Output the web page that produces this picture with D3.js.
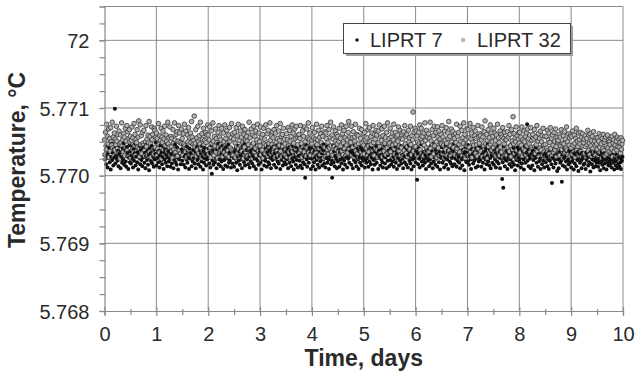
<!DOCTYPE html>
<html><head><meta charset="utf-8">
<script src="https://cdn.jsdelivr.net/npm/d3@7"></script>
<style>body{margin:0;background:#fff}svg{display:block;font-family:"Liberation Sans",Arial,sans-serif}</style>
</head><body><svg width="637" height="375"></svg>
<script>
// ---- data ----
const dayTicks = [0,1,2,3,4,5,6,7,8,9,10];
const yTicks = [5.768,5.769,5.770,5.771,5.772];
const yTickLabels = ["5.768","5.769","5.770","5.771","72"];
const seriesNames = ["LIPRT 7","LIPRT 32"];
const xTitle = "Time, days";
const yTitle = "Temperature, °C";
const tempBase = 5.770;        // °C
const sampleStepDays = 0.01;   // time between readings
// readings, in units of 0.00001 °C above tempBase (one row = 0.25 day)
const liprt7 = [
31,24,38,17,29,45,12,33,26,41,20,36,9,28,47,23,34,15,39,27,99,18,43,30,25,
22,37,14,32,44,26,11,35,28,19,40,24,48,16,31,38,21,13,42,29,34,10,27,45,20,
36,18,30,43,25,12,39,22,33,47,15,28,41,20,35,9,31,26,44,17,38,23,30,14,40,
27,42,19,34,11,29,46,23,37,16,31,8,40,25,33,21,44,18,36,28,13,39,24,32,49,
15,33,26,41,20,37,12,30,45,22,35,17,28,43,10,34,24,39,19,31,47,14,27,36,21,
40,25,13,32,44,18,29,38,11,35,23,46,20,30,16,42,27,9,37,24,33,48,17,29,39,
22,34,45,16,28,37,12,31,24,43,19,36,27,10,40,25,33,47,14,30,21,38,26,44,18,
35,11,29,42,23,31,17,46,26,38,13,33,21,44,28,9,36,19,41,25,32,15,39,24,30,
27,40,18,34,12,29,45,3,22,37,16,31,43,20,35,25,11,39,28,47,17,33,24,41,14,
32,21,44,26,10,38,23,30,15,42,28,36,13,25,46,19,34,22,40,12,29,37,18,31,26,
13,36,25,41,19,33,8,28,44,22,35,16,30,39,24,11,43,27,34,20,47,15,32,26,38,
24,31,17,43,28,12,37,21,34,46,18,29,40,14,33,25,38,10,27,45,22,35,16,30,41,
36,19,28,9,39,24,32,47,15,30,22,41,27,13,35,44,20,31,17,38,26,11,34,42,23,
29,43,16,33,25,38,12,27,45,21,34,18,40,29,10,36,23,31,46,15,28,39,20,33,26,
17,35,24,40,11,30,42,19,28,36,14,33,25,44,21,9,38,27,31,16,42,23,35,12,29,
38,22,30,15,43,26,11,34,20,39,28,17,-3,31,45,24,13,36,29,19,41,26,33,10,37,
25,41,14,32,20,36,27,9,44,23,30,16,39,28,12,35,21,42,26,33,15,38,24,46,18,
30,12,37,26,43,19,33,24,10,40,28,35,17,22,-3,31,45,20,36,14,29,41,25,11,34,
21,38,27,13,35,24,42,18,31,26,9,39,22,44,16,30,27,37,12,33,25,41,19,28,36,
43,16,29,34,11,37,23,30,45,20,33,14,28,40,24,10,36,27,19,42,31,15,38,25,22,
28,35,12,41,24,19,32,46,26,13,38,21,30,43,17,27,34,9,40,23,31,16,36,25,44,
19,33,26,10,37,28,42,15,31,24,39,20,12,35,29,45,18,27,33,11,40,22,30,37,14,
34,23,40,17,30,46,21,28,13,36,25,43,19,32,10,38,26,35,15,41,22,29,44,18,31,
25,11,37,29,20,42,33,16,27,39,12,31,45,22,34,18,28,9,36,24,40,14,30,26,43,
20,36,29,-6,33,17,41,25,12,38,28,46,21,31,15,35,24,43,19,30,10,37,26,33,22,
39,14,31,24,44,18,28,36,11,33,21,47,27,16,38,25,32,13,42,29,20,35,9,31,26,
30,42,19,35,23,12,39,27,45,16,32,24,37,10,29,43,21,34,18,40,26,14,36,28,47,
17,33,25,40,13,31,22,44,28,19,36,11,30,41,24,15,38,27,33,8,35,23,42,20,29,
34,21,45,16,29,37,24,10,39,26,32,18,43,22,35,28,12,40,25,30,14,37,21,44,27,
23,38,13,31,42,19,34,27,9,36,24,40,17,29,46,21,33,15,38,26,11,35,30,19,42,
29,16,37,24,33,12,40,21,30,44,18,27,35,11,38,25,31,-5,20,-18,43,26,14,34,23,
36,22,10,39,27,32,17,45,24,29,13,37,20,33,41,16,28,8,35,23,30,42,15,26,38,
21,33,26,12,40,18,29,36,24,9,31,43,19,27,34,76,22,38,14,30,25,41,11,32,28,
15,37,23,30,8,34,26,42,19,28,36,13,32,21,39,25,10,35,29,17,44,22,31,12,27,
33,20,28,39,14,31,24,10,36,22,29,41,17,-11,26,34,12,38,23,30,18,42,25,7,32,
24,11,35,27,19,38,22,-9,30,15,33,26,40,13,29,21,36,9,31,24,17,37,20,28,34,
12,29,21,36,25,9,33,18,27,39,14,30,23,35,7,26,32,19,38,22,11,34,25,29,16,
31,18,26,10,34,23,29,37,15,28,20,33,6,27,36,17,24,31,12,30,22,35,14,26,19,
22,28,13,32,19,25,8,30,21,35,16,27,23,11,33,18,29,24,9,31,20,26,15,34,21,
17,25,30,12,23,28,19,33,9,26,21,15,31,24,11,29,18,27,14,32,20,10,25,22,28
];
const liprt32 = [
53,31,64,44,76,39,58,47,69,27,55,36,71,50,45,79,41,57,29,63,38,54,46,73,51,
40,61,33,66,47,25,60,49,78,44,53,35,62,57,30,70,42,51,74,37,65,28,55,68,50,
58,26,52,72,39,56,34,77,45,61,30,54,49,68,42,57,81,40,28,75,46,59,33,64,48,
45,67,37,29,50,74,43,54,31,60,49,80,35,58,47,27,72,53,61,39,32,70,67,42,57,
63,29,55,40,77,46,34,59,52,70,25,57,49,66,38,54,73,45,30,60,51,36,79,47,56,
42,72,31,58,43,55,26,68,48,39,78,53,34,61,40,65,29,51,74,37,63,49,33,69,47,
55,30,62,47,76,44,35,66,41,27,60,50,71,38,56,32,63,49,80,57,28,46,52,88,43,
48,68,29,56,38,73,50,33,59,47,79,41,26,62,54,36,70,46,52,31,64,49,60,37,75,
60,32,53,72,41,27,66,48,37,78,51,30,58,44,69,35,55,49,26,64,42,74,57,33,53,
46,70,39,28,63,50,34,75,44,55,31,67,48,37,60,28,71,51,41,56,77,38,62,30,54,
37,64,48,27,71,43,59,33,76,40,52,30,66,44,57,36,73,49,25,61,42,68,53,34,58,
51,29,64,46,79,39,56,32,69,43,26,60,48,73,35,58,41,66,30,53,76,44,37,63,50,
44,72,31,57,38,61,26,70,47,54,33,75,45,36,62,29,67,48,40,78,52,32,59,46,65,
56,34,68,41,27,63,49,74,37,55,30,66,45,52,77,36,58,28,61,43,70,33,54,47,31,
39,62,28,53,71,44,35,67,51,26,58,42,75,36,63,48,30,69,55,40,73,32,57,46,60,
61,33,55,74,38,48,27,66,42,58,35,72,50,44,29,69,41,56,78,34,54,63,30,47,51,
47,71,36,56,29,64,43,54,33,76,46,53,27,67,40,57,31,62,49,73,37,58,45,26,65,
42,28,63,55,74,38,49,32,68,41,57,79,44,35,60,30,54,72,43,26,66,51,39,61,47,
58,35,51,70,27,55,44,75,36,62,31,48,67,40,56,29,73,45,53,34,64,80,39,57,46,
49,73,30,56,42,65,28,57,51,76,37,45,61,33,59,47,27,70,42,55,35,68,48,31,62,
45,32,64,53,77,41,56,29,68,44,35,71,50,26,58,46,63,38,74,49,30,61,54,40,67,
60,38,27,66,49,75,43,33,57,52,69,28,59,45,36,73,48,56,31,64,41,78,34,47,55,
48,70,35,57,29,63,45,53,76,40,32,64,47,58,26,60,51,72,37,44,67,30,55,41,63,
54,29,65,37,74,47,58,33,61,43,28,67,50,56,39,73,46,31,59,53,94,36,64,42,70,
43,66,31,59,50,27,64,47,75,38,55,70,33,58,49,29,63,45,78,52,36,67,41,57,34,
62,35,55,79,40,51,28,68,46,59,32,73,44,38,64,50,27,72,57,41,66,30,54,48,61,
47,74,33,57,45,26,66,52,39,71,48,30,63,55,80,37,58,44,29,69,50,35,65,42,60,
55,31,62,49,76,40,58,28,64,46,35,73,51,42,67,30,56,48,78,37,61,26,53,45,70,
44,68,30,56,42,77,35,54,63,27,49,71,45,38,59,66,33,55,46,29,74,40,57,48,62,
59,36,53,72,28,57,44,65,39,81,47,31,61,52,25,68,43,56,34,75,46,63,38,50,58,
41,70,33,63,52,29,60,45,76,38,56,49,30,66,42,61,35,57,71,27,55,47,64,36,53,
53,30,65,42,57,74,36,61,44,28,68,51,39,87,47,62,33,56,50,72,38,59,26,54,64,
48,64,34,57,45,72,29,53,40,66,50,37,58,31,63,44,69,27,55,47,60,35,71,42,52,
39,61,29,54,68,43,33,57,46,74,36,51,62,28,55,41,66,38,50,59,30,70,45,35,58,
46,27,58,41,67,37,53,63,32,49,71,40,55,29,60,45,34,64,51,38,69,43,28,57,50,
52,36,61,30,57,44,68,39,48,26,59,47,65,33,54,41,72,38,50,31,62,45,56,29,60,
41,58,32,66,45,35,60,48,27,55,70,38,51,43,63,30,53,47,64,36,57,28,62,44,49,
54,33,59,43,27,55,46,67,37,60,48,31,62,44,52,28,58,40,65,35,51,45,30,56,47,
39,56,30,51,62,42,34,58,47,26,55,40,61,37,49,53,29,57,44,32,60,41,52,35,50,
46,32,55,40,58,28,48,53,36,61,45,30,51,38,57,43,27,54,42,49,33,56,39,47,52
];

// ---- chart ----
const svg = d3.select("svg");
const x = d3.scaleLinear().domain([0,10]).range([104.5,623]);
const y = d3.scaleLinear().domain([5.768,5.7725]).range([311,6.5]);
const toPts = (arr,s) => arr.map((o,i)=>({s, t:i*sampleStepDays, v:tempBase + o*1e-5}));
const s7 = toPts(liprt7,0), s32 = toPts(liprt32,1);
// draw readings in time order, alternating series (as recorded)
const allPts = d3.merge(s7.map((p,i)=>[p, s32[i]]));
const gridCol = "#8a8a8a", txtCol = "#2a2a2a";

// grid
const g = svg.append("g");
g.selectAll(".vg").data(dayTicks.slice(1)).join("line")
  .attr("x1",d=>x(d)).attr("x2",d=>x(d)).attr("y1",y(5.7725)).attr("y2",y(5.768))
  .attr("stroke",gridCol).attr("stroke-width",1);
g.selectAll(".hg").data(yTicks.slice(1).concat([5.7725])).join("line")
  .attr("x1",x(0)).attr("x2",x(10)).attr("y1",d=>y(d)).attr("y2",d=>y(d))
  .attr("stroke",gridCol).attr("stroke-width",1);

// points
svg.append("g").selectAll("circle").data(allPts).join("circle")
  .attr("cx",d=>x(d.t)).attr("cy",d=>y(d.v))
  .attr("r",d=>d.s===0?2.0:2.3)
  .attr("fill",d=>d.s===0?"#111":"#b0b0b0")
  .attr("stroke",d=>d.s===0?"none":"#3a3a3a")
  .attr("stroke-width",0.85);

// axes
const yAxis = d3.axisLeft(y).tickValues(yTicks).tickFormat((d,i)=>yTickLabels[i]).tickSize(5).tickPadding(10);
const yMinor = d3.axisLeft(y).tickValues(d3.range(0,19).map(i=>5.768+i*0.00025)).tickFormat("").tickSize(5);
const xAxis = d3.axisBottom(x).tickValues(dayTicks).tickFormat(d3.format("d")).tickSize(5).tickPadding(11);
const xMinor = d3.axisBottom(x).tickValues(d3.range(0,20).map(i=>i+0.5).filter(d=>d<10)).tickFormat("").tickSize(4);

function styleAxis(sel){
  sel.select(".domain").attr("stroke",gridCol).attr("stroke-width",1.2);
  sel.selectAll(".tick line").attr("stroke",gridCol).attr("stroke-width",1.2);
  sel.selectAll("text").attr("fill",txtCol).attr("font-size",20).attr("font-family","'Liberation Sans',Arial,sans-serif");
}
const gy = svg.append("g").attr("transform",`translate(${x(0)},0)`).call(yMinor); styleAxis(gy);
gy.selectAll(".tick line").attr("x2",-5).attr("x1",1);
const gy2 = svg.append("g").attr("transform",`translate(${x(0)},0)`).call(yAxis); styleAxis(gy2);
gy2.select(".domain").remove();
gy2.selectAll("text").attr("dy","0.36em");
const gx = svg.append("g").attr("transform",`translate(0,${y(5.768)})`).call(xMinor); styleAxis(gx);
gx.selectAll(".tick line").attr("y1",-2).attr("y2",4);
const gx2 = svg.append("g").attr("transform",`translate(0,${y(5.768)})`).call(xAxis); styleAxis(gx2);
gx2.select(".domain").remove();
gx2.selectAll(".tick line").attr("y1",-4).attr("y2",5);
gy2.selectAll(".tick line").attr("x1",0).attr("x2",-5);

// titles
svg.append("text").attr("x",(x(0)+x(10))/2).attr("y",366).attr("text-anchor","middle")
  .attr("font-weight","bold").attr("font-size",23).attr("fill",txtCol).text(xTitle);
svg.append("text").attr("transform",`translate(25,160) rotate(-90)`).attr("text-anchor","middle")
  .attr("font-weight","bold").attr("font-size",23).attr("fill",txtCol).text(yTitle);

// legend
const lg = svg.append("g");
lg.append("rect").attr("x",346).attr("y",26).attr("width",227).attr("height",30).attr("fill","#9a9a9a");
lg.append("rect").attr("x",343.5).attr("y",23.5).attr("width",227).attr("height",30).attr("fill","#fff").attr("stroke","#444").attr("stroke-width",1);
const legItems = [{name:seriesNames[0],dx:357,tx:370,fill:"#111",stroke:"none",r:1.7},
                  {name:seriesNames[1],dx:463,tx:477,fill:"#c4c4c4",stroke:"#8a8a8a",r:1.8}];
legItems.forEach(it=>{
  lg.append("circle").attr("cx",it.dx).attr("cy",40).attr("r",it.r).attr("fill",it.fill).attr("stroke",it.stroke).attr("stroke-width",0.6);
  lg.append("text").attr("x",it.tx).attr("y",47).attr("font-size",20).attr("fill",txtCol).text(it.name);
});
</script></body></html>
